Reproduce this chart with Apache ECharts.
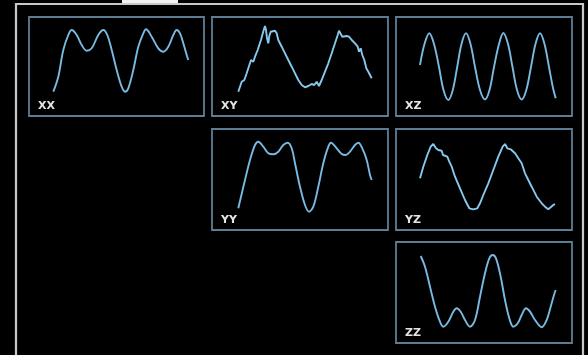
<!DOCTYPE html>
<html>
<head>
<meta charset="utf-8">
<script src="https://cdn.jsdelivr.net/npm/echarts@6/dist/echarts.min.js"></script>
<style>
html,body{margin:0;padding:0;background:#000;}
#chart{width:588px;height:355px;}
</style>
</head>
<body>
<div id="chart"></div>
<script>
// Panel names
const panelNames = ['XX', 'XY', 'XZ', 'YY', 'YZ', 'ZZ'];

// Signals: [time, amplitude]
const xxData = [[24.3,24.3],[29.3,39.3],[34.3,66],[39.3,81],[42.7,86],[47.7,81],[52.7,71],[57.7,65.3],[62.7,67.7],[69.3,81],[74.3,86],[78.3,81],[82.7,66],[87.7,46],[92.7,29.3],[96,24.3],[99.3,27.7],[104.3,46],[109.3,69.3],[114.3,82.7],[117,86.7],[122.7,79.3],[129.3,67.7],[134.3,64.3],[139.3,69.3],[144.3,81],[147.7,86],[151,82.7],[154.3,72.7],[157.7,61],[159.3,56]];

const xyData = [[26.3,24.3],[28,29.3],[29.7,34.3],[32.3,36],[34.7,42.7],[36.3,47.7],[39,56],[41.3,54.3],[43,59.3],[45.7,66],[47.3,71],[49,76],[50.3,81],[51.7,86],[53,90],[54,86],[55,77.7],[56.3,72.7],[57.3,80],[58.7,84.3],[60.3,86],[63,85.3],[64.7,82.7],[66.3,76],[69.7,69.3],[73,62.7],[76.3,56],[79.7,49.3],[83,42.7],[86.3,36],[89.7,31],[93,28.7],[96.3,30],[99.7,32],[102.3,31],[104.7,34.3],[107,30],[109.7,36],[113,44.3],[116.3,52.7],[119.7,62.7],[123,72.7],[125.7,81],[127,85.3],[129,83.3],[130.3,79.3],[132.3,81],[134.7,80],[137,79.3],[139.7,76],[143,72.7],[145.7,69.3],[147,64.3],[148.7,67.7],[150.3,61],[152.3,56],[154.3,47.7],[156.3,44.3],[158,41],[159.7,37.7]];

const xzData = [[24,51],[28.5,72],[33.3,82.7],[38,72],[43,49],[47.5,26],[52.3,16],[56.8,26],[61.2,49],[65.5,72],[70,82.7],[74.5,72],[79,49],[84,26],[89,16.5],[93.5,26],[98,49],[103,72],[107.3,83],[112,72],[116.5,49],[121,26],[125.7,16.5],[130.3,26],[135,49],[139.5,72],[144,82.7],[148.5,72],[153,49],[157,28],[159.7,17.7]];

const yyData = [[26.3,21.7],[33,50],[38,70],[43,85],[46.3,88.3],[51.3,83.3],[56.3,76.7],[61.3,75.7],[66.3,78.3],[71.3,85],[75.7,87.3],[79.7,81.7],[83,66.7],[88,43.3],[93,25],[97,18.3],[101.3,23.3],[106.3,43.3],[111.3,66.7],[115.7,81.7],[119,87.3],[124.7,81.7],[129.7,76],[133.7,75],[138,78.3],[143,85],[146.3,87.3],[150.3,81.7],[154.7,70],[158,55],[159.7,50]];

const yzData = [[24,51.7],[27.3,63.3],[31.3,75],[34.7,83.3],[37.3,86],[40,81.7],[42.3,80],[45.7,79.3],[47,75],[49,76.7],[51.3,73.3],[53.3,68.3],[55.7,63.3],[59,53.3],[64,41.7],[69,30],[73.3,21.7],[77.3,20.7],[81.3,21.7],[84,26.7],[87.3,35],[92.3,46.7],[97.3,60],[102.3,73.3],[106.7,83.3],[109,86],[111.3,81.7],[114.7,80.7],[119,76.7],[122.3,71.7],[125.7,66.7],[129,56.7],[132.3,50],[135.7,43.3],[140.7,33.3],[145.7,26.7],[149,23.3],[152.3,20.7],[154.7,22.7],[157.3,25],[159,26]];

const zzData = [[24.7,87],[29,76.3],[34,56.3],[39,36.3],[44,21.3],[47.3,16.3],[52.3,21.3],[57.3,31.3],[60.7,34.7],[64.7,31.3],[69,23],[74,16.3],[79,23],[84,46.3],[89,69.7],[93.3,84.7],[96.7,88],[100,84.7],[104.7,66.3],[109,43],[113.3,24.7],[117.3,16.3],[121.7,19.7],[125.7,28],[130,34.7],[134,31.3],[139,23],[145.7,15.7],[150.7,23],[154.7,36.3],[158,48],[159.7,53]];

const allData = [xxData, xyData, xzData, yyData, yzData, zzData];
const noisy = [false, true, false, false, true, false];

// layout (px)
const boxes = [
  {l:29, t:17, w:175, h:99},
  {l:212, t:17, w:176, h:99},
  {l:396, t:17, w:176, h:99},
  {l:212, t:129, w:176, h:101},
  {l:396, t:129, w:176, h:101},
  {l:396, t:242, w:176, h:101}
];

const grids = [], xAxes = [], yAxes = [], series = [], graphics = [];
graphics.push({type:'rect', shape:{x:16, y:4, width:567, height:370}, style:{fill:'none', stroke:'#c8c8c8', lineWidth:2.2}, z:0});
graphics.push({type:'rect', shape:{x:122, y:0, width:56, height:3}, style:{fill:'#f2f2f2'}, z:1});

boxes.forEach((b, i) => {
  grids.push({left:b.l, top:b.t, width:b.w, height:b.h, show:true, borderColor:'#5f7d92', borderWidth:1.8, backgroundColor:'#000', containLabel:false});
  xAxes.push({type:'value', gridIndex:i, min:0, max:b.w, show:false});
  yAxes.push({type:'value', gridIndex:i, min:0, max:b.h, show:false});
  series.push({
    type:'line', xAxisIndex:i, yAxisIndex:i, data:allData[i],
    showSymbol:false, smooth: noisy[i] ? false : 0.35,
    lineStyle:{color: noisy[i] ? '#86c8ee' : '#7ab9e2', width:1.9},
    animation:false
  });
  graphics.push({type:'text', x:b.l + 9, y:b.t + b.h - 15, style:{text:panelNames[i], fill:'#e4e4e4', font:'bold 11px "DejaVu Sans", sans-serif'}, z:10});
});

const chart = echarts.init(document.getElementById('chart'), null, {renderer:'canvas'});
chart.setOption({
  backgroundColor:'#000',
  animation:false,
  grid:grids, xAxis:xAxes, yAxis:yAxes, series:series,
  graphic:graphics
});
</script>
</body>
</html>
